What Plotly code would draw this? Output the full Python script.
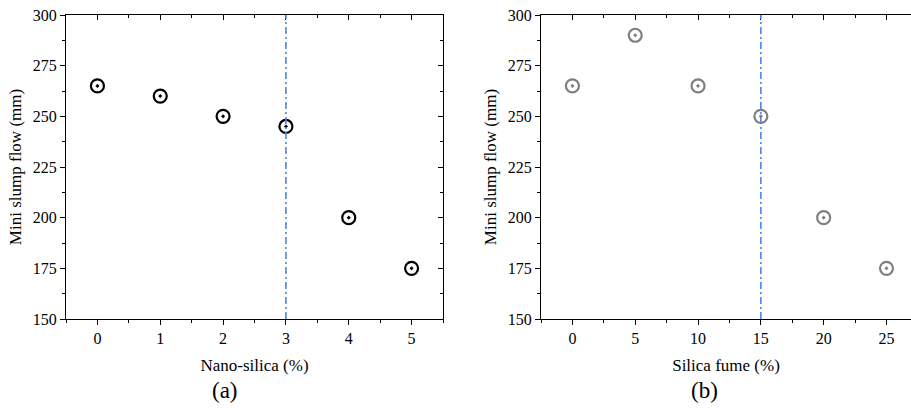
import plotly.graph_objects as go

nano_x = [0, 1, 2, 3, 4, 5]
nano_flow = [265, 260, 250, 245, 200, 175]
fume_x = [0, 5, 10, 15, 20, 25]
fume_flow = [265, 290, 265, 250, 200, 175]
nano_opt = 3
fume_opt = 15
y_ticks = [150, 175, 200, 225, 250, 275, 300]

W, H = 911, 408
def px(v): return v / W
def py(v): return 1 - v / H

dom1 = [px(66), px(443)]
dom2 = [px(541), 1.0]
ydom = [py(319), py(15)]

FONT = "Liberation Serif"
TICK_SIZE = 16
TITLE_SIZE = 17
fig = go.Figure()

fig.add_trace(go.Scatter(x=nano_x, y=nano_flow, mode="markers", xaxis="x", yaxis="y",
                         marker=dict(symbol="circle-open-dot", size=13, color="black",
                                     line=dict(width=2.2, color="black")),
                         showlegend=False, hoverinfo="skip"))
fig.add_trace(go.Scatter(x=fume_x, y=fume_flow, mode="markers", xaxis="x2", yaxis="y2",
                         marker=dict(symbol="circle-open-dot", size=13, color="#7f7f7f",
                                     line=dict(width=2.2, color="#7f7f7f")),
                         showlegend=False, hoverinfo="skip"))
# invisible traces for mirror axes
fig.add_trace(go.Scatter(x=nano_x, y=nano_flow, xaxis="x3", yaxis="y3", mode="markers",
                         marker=dict(opacity=0), showlegend=False, hoverinfo="skip"))
fig.add_trace(go.Scatter(x=fume_x, y=fume_flow, xaxis="x4", yaxis="y4", mode="markers",
                         marker=dict(opacity=0), showlegend=False, hoverinfo="skip"))

tickfont = dict(family=FONT, size=TICK_SIZE, color="black")
titlefont = dict(family=FONT, size=TITLE_SIZE, color="black")
def minor(d, t0, direction):
    return dict(ticks=direction, ticklen=3, tickwidth=1.2, tickcolor="black", dtick=d, tick0=t0, showgrid=False)

common_x = dict(showgrid=False, zeroline=False, showline=True, linecolor="black", linewidth=1.3,
                ticks="outside", ticklen=5, tickwidth=1.2, tickcolor="black", tickfont=tickfont,
                automargin=False)
common_y = dict(showgrid=False, zeroline=False, showline=True, linecolor="black", linewidth=1.3,
                ticks="outside", ticklen=5, tickwidth=1.2, tickcolor="black", tickfont=tickfont,
                range=[150, 300], tickvals=y_ticks, domain=ydom, automargin=False,
                minor=minor(12.5, 150, "outside"),
                title=dict(text="Mini slump flow (mm)", font=titlefont, standoff=6))
mirror_common = dict(showgrid=False, zeroline=False, showline=True, linecolor="black", linewidth=1.3,
                     ticks="inside", ticklen=5, tickwidth=1.2, tickcolor="black", showticklabels=False,
                     automargin=False)

fig.update_layout(
    width=W, height=H, margin=dict(l=0, r=0, t=0, b=0, autoexpand=False),
    paper_bgcolor="white", plot_bgcolor="white",
    font=dict(family=FONT, color="black"),
    xaxis=dict(**common_x, domain=dom1, range=[-0.5, 5.5], tickvals=nano_x, anchor="y",
               minor=minor(0.5, 0, "outside"),
               title=dict(text="Nano-silica (%)", font=titlefont, standoff=12)),
    yaxis=dict(**common_y, anchor="x"),
    xaxis2=dict(**common_x, domain=dom2, range=[-2.5, 26.95], tickvals=fume_x, anchor="y2",
                minor=minor(2.5, 0, "outside"),
                title=dict(text="Silica fume (%)", font=titlefont, standoff=12)),
    yaxis2=dict(**common_y, anchor="x2"),
    xaxis3=dict(**mirror_common, overlaying="x", side="top", anchor="y", range=[-0.5, 5.5], tickvals=nano_x,
                minor=minor(0.5, 0, "inside")),
    yaxis3=dict(**mirror_common, overlaying="y", side="right", anchor="x", range=[150, 300], tickvals=y_ticks,
                minor=minor(12.5, 150, "inside")),
    xaxis4=dict(**mirror_common, overlaying="x2", side="top", anchor="y2", range=[-2.5, 26.95], tickvals=fume_x,
                minor=minor(2.5, 0, "inside")),
    yaxis4=dict(showgrid=False, zeroline=False, showline=False, ticks="", showticklabels=False,
                overlaying="y2", side="right", anchor="x2", range=[150, 300], automargin=False),
)

fig.add_shape(type="line", xref="x", yref="y", x0=nano_opt, x1=nano_opt, y0=150, y1=300,
              line=dict(color="#4a86e8", width=1.6, dash="7px,3px,2px,3px"))
fig.add_shape(type="line", xref="x2", yref="y2", x0=fume_opt, x1=fume_opt, y0=150, y1=300,
              line=dict(color="#4a86e8", width=1.6, dash="7px,3px,2px,3px"))

fig.add_annotation(text="(a)", xref="paper", yref="paper", x=px(225), y=py(390), showarrow=False,
                   xanchor="center", yanchor="middle",
                   font=dict(family=FONT, size=23, color="black"))
fig.add_annotation(text="(b)", xref="paper", yref="paper", x=px(704), y=py(390), showarrow=False,
                   xanchor="center", yanchor="middle",
                   font=dict(family=FONT, size=23, color="black"))

fig.write_html("out.html")
